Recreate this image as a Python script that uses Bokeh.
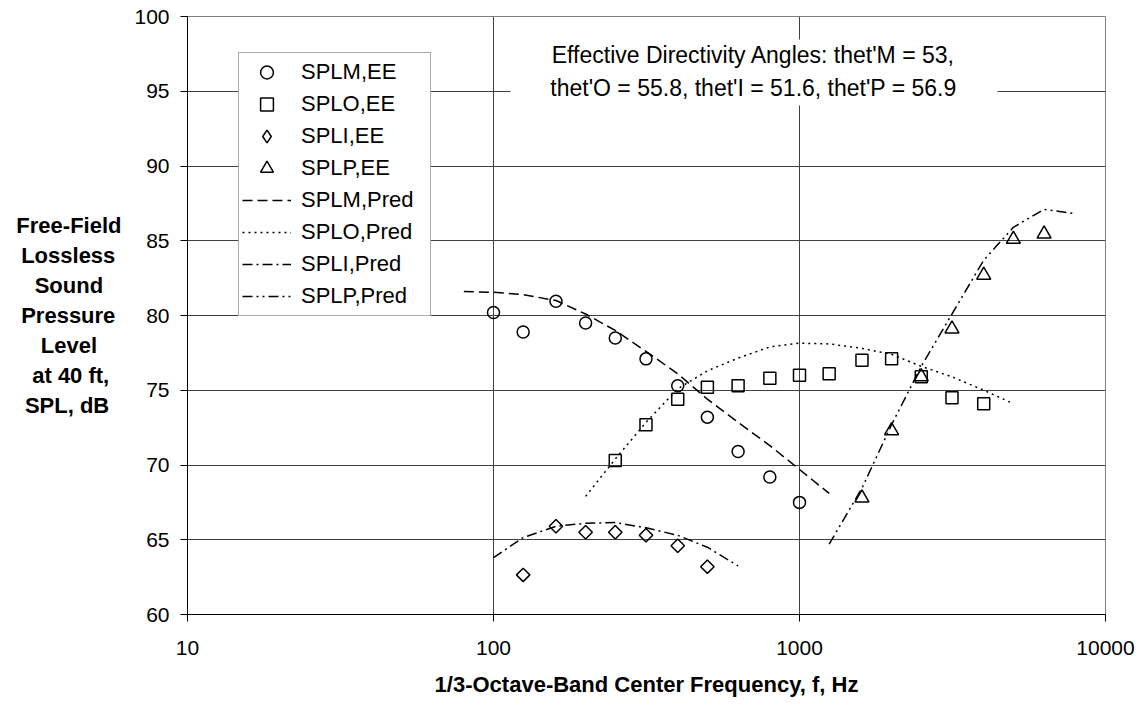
import math
from bokeh.plotting import figure
from bokeh.models import (Legend, LegendItem, Label, BoxAnnotation, FixedTicker,
                          PrintfTickFormatter)
from bokeh.embed import file_html
from bokeh.resources import INLINE

# ---- data ----
f_m_ee = [100, 125, 160, 200, 250, 315, 400, 500, 630, 800, 1000]
splm_ee = [80.2, 78.9, 80.95, 79.5, 78.5, 77.1, 75.3, 73.2, 70.9, 69.2, 67.5]

f_o_ee = [250, 315, 400, 500, 630, 800, 1000, 1250, 1600, 2000, 2500, 3150, 4000]
splo_ee = [70.3, 72.7, 74.4, 75.2, 75.3, 75.8, 76.0, 76.1, 77.0, 77.1, 75.9, 74.5, 74.1]

f_i_ee = [125, 160, 200, 250, 315, 400, 500]
spli_ee = [62.65, 65.9, 65.5, 65.5, 65.3, 64.6, 63.2]

f_p_ee = [1600, 2000, 2500, 3150, 4000, 5000, 6300]
splp_ee = [67.8, 72.3, 75.9, 79.1, 82.7, 85.1, 85.45]

f_m_pred = [80, 100, 125, 160, 200, 250, 315, 400, 500, 630, 800, 1000, 1250]
splm_pred = [81.6, 81.55, 81.4, 81.0, 80.1, 79.0, 77.6, 76.1, 74.4, 72.85, 71.3, 69.7, 68.1]

f_o_pred = [200, 250, 315, 400, 500, 630, 800, 1000, 1250, 1600, 2000, 2500, 3150, 4000, 5000]
splo_pred = [67.9, 70.4, 72.85, 75.1, 76.3, 77.15, 77.9, 78.15, 78.1, 77.8, 77.4, 76.6, 75.9, 75.0, 74.1]

f_i_pred = [100, 125, 160, 200, 250, 315, 400, 500, 630]
spli_pred = [63.8, 65.15, 65.9, 66.1, 66.15, 65.8, 65.3, 64.5, 63.25]

f_p_pred = [1250, 1600, 2000, 2500, 3150, 4000, 5000, 6300, 8000]
splp_pred = [64.7, 68.45, 72.7, 76.6, 80.1, 83.7, 85.9, 87.1, 86.8]

x_ticks = [10, 100, 1000, 10000]
y_ticks = [60, 65, 70, 75, 80, 85, 90, 95, 100]

x_title = "1/3-Octave-Band Center Frequency, f, Hz"
y_title_lines = ["Free-Field", "Lossless", "Sound", "Pressure", "Level", "at 40 ft,", "SPL, dB"]
note = "Effective Directivity Angles: thet'M = 53,\nthet'O = 55.8, thet'I = 51.6, thet'P = 56.9"

FONT = "Liberation Sans"

# The axis title is drawn right-aligned line by line; trailing no-break spaces
# make each line sit centred under the widest one, as in the original.
NBSP = "\u00a0"
pad = [0, 1, 3, 1, 4, 2, 2]
y_title = "\n".join(t + NBSP * n for t, n in zip(y_title_lines, pad))

p = figure(width=1144, height=707, x_axis_type="log", x_range=(10, 10000), y_range=(60, 100),
           output_backend="svg", toolbar_location=None,
           min_border_left=187, min_border_right=39, min_border_top=16, min_border_bottom=93)
p.background_fill_color = "white"
p.border_fill_color = "white"
p.outline_line_color = "#808080"
p.outline_line_width = 1

# axes
p.xaxis.ticker = FixedTicker(ticks=x_ticks)
p.yaxis.ticker = FixedTicker(ticks=y_ticks)
p.xaxis.formatter = PrintfTickFormatter(format="%d")
p.yaxis.formatter = PrintfTickFormatter(format="%d")
for ax in (p.xaxis[0], p.yaxis[0]):
    ax.axis_line_color = "black"
    ax.axis_line_width = 1
    ax.major_tick_line_color = "black"
    ax.major_tick_out = 7
    ax.major_tick_in = 0
    ax.minor_tick_line_color = None
    ax.major_label_text_font = FONT
    ax.major_label_text_font_size = "21px"
    ax.major_label_text_color = "black"
    ax.axis_label_text_font = FONT
    ax.axis_label_text_font_style = "bold"
    ax.axis_label_text_color = "black"
p.xaxis.major_label_standoff = 19
p.yaxis.major_label_standoff = 11
p.xaxis.axis_label = x_title
p.xaxis.axis_label_text_font_size = "22px"
p.xaxis.axis_label_standoff = 14

p.yaxis.axis_label = y_title
p.yaxis.axis_label_text_font_size = "22px"
p.yaxis.axis_label_orientation = "horizontal"
p.yaxis.axis_label_text_align = "center"
p.yaxis.axis_label_standoff = 10
p.yaxis.axis_label_text_line_height = 1.2

p.xgrid.grid_line_color = "#404040"
p.ygrid.grid_line_color = "#404040"
p.xgrid.grid_line_width = 1
p.ygrid.grid_line_width = 1

LW = 1.5
nan = float("nan")
r_m = p.scatter(f_m_ee, splm_ee, marker="circle", size=12, fill_color=None,
                line_color="black", line_width=LW)
r_o = p.scatter(f_o_ee, splo_ee, marker="square", size=12, fill_color=None,
                line_color="black", line_width=LW)
r_i = p.scatter(f_i_ee, spli_ee, marker="square", size=9.5, angle=math.pi / 4, fill_color=None,
                line_color="black", line_width=LW)
# legend key for the diamond series (the legend ignores marker angle); its point is NaN, so not drawn
r_i_key = p.scatter([nan], [nan], marker="diamond", size=15, fill_color=None,
                    line_color="black", line_width=LW)
r_p = p.scatter(f_p_ee, splp_ee, marker="triangle", size=14, fill_color=None,
                line_color="black", line_width=LW)

l_m = p.line(f_m_pred, splm_pred, line_color="black", line_width=LW, line_dash="10 5")
l_o = p.line(f_o_pred, splo_pred, line_color="black", line_width=LW, line_dash="2 4")
l_i = p.line(f_i_pred, spli_pred, line_color="black", line_width=LW, line_dash="10 4 2 4")
l_p = p.line(f_p_pred, splp_pred, line_color="black", line_width=LW, line_dash="10 4 2 4 2 4")

items = [
    LegendItem(label="SPLM,EE", renderers=[r_m]),
    LegendItem(label="SPLO,EE", renderers=[r_o]),
    LegendItem(label="SPLI,EE", renderers=[r_i_key]),
    LegendItem(label="SPLP,EE", renderers=[r_p]),
    LegendItem(label="SPLM,Pred", renderers=[l_m]),
    LegendItem(label="SPLO,Pred", renderers=[l_o]),
    LegendItem(label="SPLI,Pred", renderers=[l_i]),
    LegendItem(label="SPLP,Pred", renderers=[l_p]),
]
legend = Legend(items=items, location=(51, 298))
legend.background_fill_color = "white"
legend.background_fill_alpha = 1.0
legend.border_line_color = "#555555"
legend.border_line_width = 1
legend.label_text_font = FONT
legend.label_text_font_size = "22px"
legend.label_text_color = "black"
legend.padding = 3
legend.spacing = 0
legend.label_height = 32
legend.glyph_height = 32
legend.glyph_width = 49
legend.label_standoff = 10
legend.label_width = 126
legend.margin = 0
p.add_layout(legend, "center")

# annotation box
box = BoxAnnotation(left=323, right=810, bottom=509, top=575,
                    left_units="screen", right_units="screen",
                    bottom_units="screen", top_units="screen",
                    fill_color="white", fill_alpha=1.0, line_color=None)
p.add_layout(box)
p.add_layout(Label(x=566, y=543, x_units="screen", y_units="screen", text=note,
                   text_align="center", text_baseline="middle",
                   text_font=FONT, text_font_size="23px", text_color="black",
                   text_line_height=1.3))

open("out.html", "w").write(file_html(p, INLINE))
